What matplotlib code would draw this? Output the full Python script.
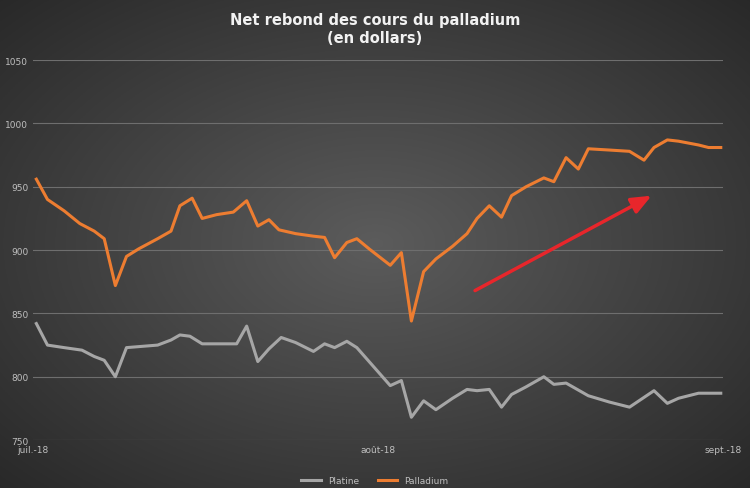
import numpy as np
import matplotlib
matplotlib.use("Agg")
import matplotlib.pyplot as plt

pal_days = [0.3,1.3,2.8,4.2,5.5,6.4,7.4,8.4,9.5,11.2,12.4,13.2,14.3,15.2,16.5,18.0,19.2,20.2,21.2,22.1,23.6,25.2,26.2,27.1,28.2,29.1,30.2,32.1,33.1,34.0,35.1,36.2,37.7,39.0,39.9,41.0,42.1,43.0,44.3,45.9,46.8,47.9,49.0,49.9,51.8,53.6,54.9,55.8,57.0,58.0,59.8,60.7,61.8]
pal_vals = [956,940,931,921,915,909,872,895,901,909,915,935,941,925,928,930,939,919,924,916,913,911,910,894,906,909,901,888,898,844,883,893,903,913,925,935,926,943,950,957,954,973,964,980,979,978,971,981,987,986,983,981,981]
pla_days = [0.3,1.3,2.8,4.4,5.5,6.4,7.4,8.4,11.2,12.4,13.2,14.1,15.2,18.3,19.2,20.2,21.2,22.3,23.6,25.2,26.2,27.1,28.2,29.1,30.2,32.1,33.1,34.0,35.1,36.2,37.7,39.0,39.9,41.0,42.1,43.0,44.3,45.9,46.8,47.9,49.9,51.8,53.6,55.8,57.0,58.0,59.8,60.7,61.8]
pla_vals = [842,825,823,821,816,813,800,823,825,829,833,832,826,826,840,812,822,831,827,820,826,823,828,823,812,793,797,768,781,774,783,790,789,790,776,786,792,800,794,795,785,780,776,789,779,783,787,787,787]
x_ticks = [0, 31, 62]
x_labels = ["juil.-18", "août-18", "sept.-18"]

fig = plt.figure(figsize=(7.5, 4.89), dpi=100)
bgax = fig.add_axes([0, 0, 1, 1])
yy, xx = np.mgrid[-1:1:300j, -1:1:460j]
r = np.sqrt(xx**2 + yy**2) / np.sqrt(2)
g = 0.36 - 0.20 * r
bgax.imshow(np.dstack([g, g, g]), aspect="auto", extent=[0, 1, 0, 1])
bgax.axis("off")

ax = fig.add_axes([0.044, 0.098, 0.92, 0.777])
ax.patch.set_alpha(0)
ax.plot(pla_days, pla_vals, color="#a6a6a6", lw=2.2)
ax.plot(pal_days, pal_vals, color="#ed7d31", lw=2.2)
ax.set_ylim(750, 1050)
ax.set_xlim(0, 62)
ax.set_yticks(range(750, 1051, 50))
ax.set_xticks(x_ticks)
ax.set_xticklabels(x_labels)
ax.tick_params(colors="#bfbfbf", labelsize=6.5, length=0)
ax.grid(axis="y", color="#6e6e6e", lw=0.8)
for s in ax.spines.values():
    s.set_visible(False)
ax.annotate("", xy=(55.8, 944), xytext=(39.5, 867),
            arrowprops=dict(arrowstyle="-|>,head_length=1.2,head_width=0.5", color="#e8262b", lw=2.5))
fig.text(0.5, 0.94, "Net rebond des cours du palladium\n(en dollars)", ha="center", va="center",
         color="#f2f2f2", fontsize=10.5, fontweight="bold", linespacing=1.3)
from matplotlib.lines import Line2D
h = [Line2D([], [], color="#a6a6a6", lw=2.2), Line2D([], [], color="#ed7d31", lw=2.2)]
fig.legend(h, ["Platine", "Palladium"], loc="lower center", bbox_to_anchor=(0.5, -0.01), ncol=2,
           frameon=False, fontsize=6.5, labelcolor="#bfbfbf", handlelength=2.2)
fig.savefig("out.png", dpi=100)
